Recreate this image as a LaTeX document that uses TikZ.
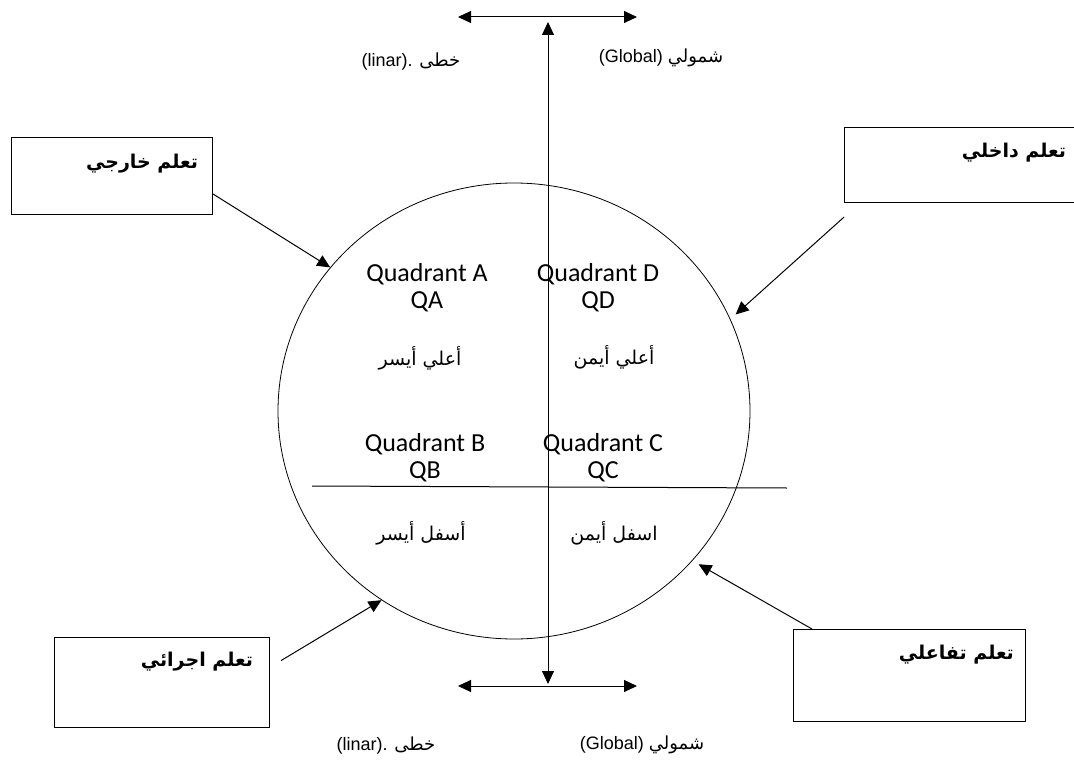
\documentclass[tikz,border=0pt]{standalone}
\usepackage{fontspec}
\usepackage{tikz}
\usetikzlibrary{positioning,arrows.meta,shapes.geometric}
\TeXXeTstate=1
\setmainfont{Liberation Sans}
\newfontfamily\arabicfont[Script=Arabic]{DejaVu Sans}
\newfontfamily\quadfont{Carlito}
\newcommand{\artxt}[1]{{\arabicfont\beginR #1\endR}}

\begin{document}
\begin{tikzpicture}[
  x=1pt, y=-1pt,
  box/.style={draw=black, line width=1.1pt, anchor=north west, inner sep=0pt},
  boxlbl/.style={anchor=north east, inner sep=0pt, font=\fontsize{19pt}{22pt}\selectfont\bfseries},
  quad/.style={align=center, inner sep=0pt, font=\quadfont\fontsize{26pt}{27pt}\selectfont},
  qsub/.style={inner sep=0pt, font=\fontsize{19pt}{22pt}\selectfont},
  axlbl/.style={inner sep=0pt, font=\fontsize{18pt}{21pt}\selectfont},
  arr/.style={-{Triangle[length=13pt,width=12pt]}, line width=1pt},
  dbl/.style={{Triangle[length=13pt,width=12pt]}-{Triangle[length=13pt,width=12pt]}, line width=1pt}
]
\useasboundingbox (0,0) rectangle (1074,760);

\node[draw, ellipse, line width=0.8pt, minimum width=472pt, minimum height=456pt, inner sep=0pt] (circ) at (514,411) {};

\coordinate (hl) at (312,486); \coordinate (hr) at (787,488);
\draw[line width=1pt] (hl) -- (hr);

\coordinate (topl) at (458,17); \coordinate (topr) at (637,17);
\coordinate (botl) at (458,686); \coordinate (botr) at (637,686);
\coordinate (vtop) at (548,22); \coordinate (vbot) at (548,684);
\draw[dbl] (topl) -- (topr);
\draw[dbl] (botl) -- (botr);
\draw[dbl] (vtop) -- (vbot);

\node[axlbl] (lintop) at (411,62) {(linar). \artxt{خطى}};
\node[axlbl] (globtop) at (661,58) {(Global) \artxt{شمولي}};
\node[axlbl] (linbot) at (386,746) {(linar). \artxt{خطى}};
\node[axlbl] (globbot) at (642,745) {(Global) \artxt{شمولي}};

\node[quad] (qa) at (427,288) {Quadrant A\\QA};
\node[quad] (qd) at (598,288) {Quadrant D\\QD};
\node[quad] (qb) at (425,458) {Quadrant B\\QB};
\node[quad] (qc) at (603,458) {Quadrant C\\QC};

\node[qsub] (qasub) at (420,358) {\artxt{أعلي أيسر}};
\node[qsub] (qdsub) at (614,357) {\artxt{أعلي أيمن}};
\node[qsub] (qbsub) at (421,533) {\artxt{أسفل أيسر}};
\node[qsub] (qcsub) at (614,533) {\artxt{اسفل أيمن}};

\node[box, minimum width=201pt, minimum height=77pt] (ext) at (11,137) {};
\node[box, minimum width=236pt, minimum height=75pt] (int) at (844,127) {};
\node[box, minimum width=215pt, minimum height=90pt] (proc) at (54,637) {};
\node[box, minimum width=232pt, minimum height=92pt] (inter) at (793,629) {};

\node[boxlbl] (extlbl) at ([xshift=-15pt,yshift=-17pt]ext.north east) {\artxt{تعلم خارجي}};
\node[boxlbl] (intlbl) at ([xshift=-15pt,yshift=-16pt]int.north east) {\artxt{تعلم داخلي}};
\node[boxlbl] (proclbl) at ([xshift=-17pt,yshift=-15pt]proc.north east) {\artxt{تعلم اجرائي}};
\node[boxlbl] (interlbl) at ([xshift=-12pt,yshift=-16pt]inter.north east) {\artxt{تعلم تفاعلي}};

\draw[arr] ([yshift=-18pt]ext.east) -- (circ.142);
\draw[arr, shorten >=7pt] ([yshift=-14pt]int.south west) -- (circ.23);
\draw[arr] ([xshift=11pt,yshift=22pt]proc.east) -- (circ.235);
\draw[arr, shorten >=7pt] ([xshift=19pt]inter.north west) -- (circ.-40);
\end{tikzpicture}
\end{document}
